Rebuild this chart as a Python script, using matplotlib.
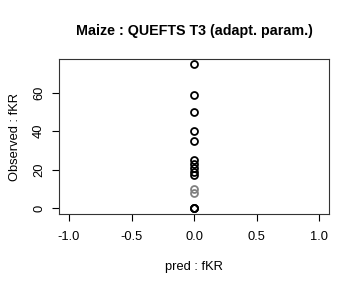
import matplotlib
matplotlib.use("Agg")
import matplotlib.pyplot as plt

# ================= DATA =================
pred_black = [0, 0, 0, 0, 0, 0, 0, 0, 0, 0, 0, 0, 0]
obs_black = [75, 59, 50, 40, 35, 25, 23, 21, 19, 17, 0, 0, 0]
pred_gray = [0, 0]
obs_gray = [10, 8]

X_TICKS = [-1.0, -0.5, 0.0, 0.5, 1.0]
Y_TICKS = [0, 20, 40, 60]

TITLE = "Maize : QUEFTS T3 (adapt. param.)"
XLABEL = "pred : fKR"
YLABEL = "Observed : fKR"

plt.rcParams["font.family"] = ["Liberation Sans", "DejaVu Sans"]

fig = plt.figure(figsize=(3.6, 2.88), dpi=100, facecolor="white")
ax = fig.add_axes([0.164, 0.257, 0.75, 0.538])

ax.plot(pred_gray, obs_gray, linestyle="none", marker="o", markersize=5,
        markerfacecolor="none", markeredgecolor="#808080", markeredgewidth=1.3)
ax.plot(pred_black, obs_black, linestyle="none", marker="o", markersize=5,
        markerfacecolor="none", markeredgecolor="black", markeredgewidth=1.3)

ax.set_xlim(-1.08, 1.08)
ax.set_ylim(-3.1, 77.6)
ax.set_xticks(X_TICKS)
ax.set_xticklabels(["%.1f" % v for v in X_TICKS])
ax.set_yticks(Y_TICKS)
ax.set_yticklabels([str(v) for v in Y_TICKS], rotation=90, va="center")

ax.tick_params(direction="out", length=5, width=0.8, labelsize=9.3)
ax.tick_params(axis="x", pad=7)
ax.tick_params(axis="y", pad=5)
for s in ax.spines.values():
    s.set_linewidth(0.8)
    s.set_color("#333333")

ax.set_title(TITLE, fontsize=10.3, fontweight="bold", pad=17)
ax.set_xlabel(XLABEL, fontsize=9.3, labelpad=13)
ax.set_ylabel(YLABEL, fontsize=9.3, labelpad=9)

fig.savefig("out.png", dpi=100, facecolor="white")
plt.close(fig)
